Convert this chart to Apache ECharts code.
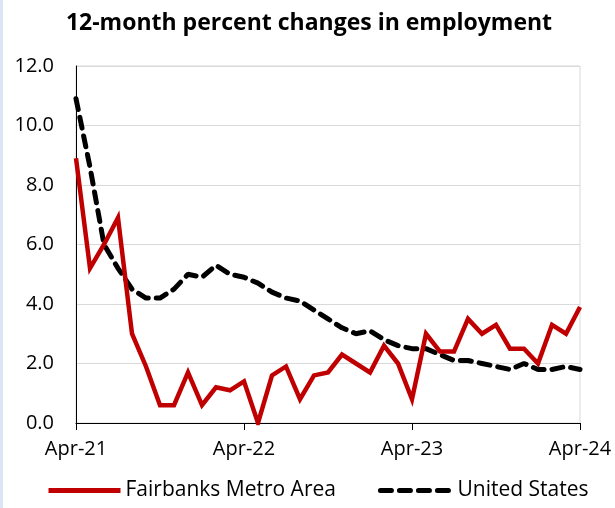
<!DOCTYPE html>
<html>
<head>
<meta charset="utf-8">
<script src="https://cdn.jsdelivr.net/npm/echarts@6/dist/echarts.min.js"></script>
<style>
  html, body { margin: 0; padding: 0; background: #fff; }
  #main { width: 615px; height: 508px; border-left: 3px solid #dce6f2; box-sizing: border-box; }
</style>
</head>
<body>
<div id="main"></div>
<script>
// monthly categories, Apr-21 .. Apr-24
const months = [
  'Apr-21', 'May-21', 'Jun-21', 'Jul-21', 'Aug-21', 'Sep-21', 'Oct-21', 'Nov-21', 'Dec-21', 'Jan-22', 'Feb-22', 'Mar-22',
  'Apr-22', 'May-22', 'Jun-22', 'Jul-22', 'Aug-22', 'Sep-22', 'Oct-22', 'Nov-22', 'Dec-22', 'Jan-23', 'Feb-23', 'Mar-23',
  'Apr-23', 'May-23', 'Jun-23', 'Jul-23', 'Aug-23', 'Sep-23', 'Oct-23', 'Nov-23', 'Dec-23', 'Jan-24', 'Feb-24', 'Mar-24',
  'Apr-24'
]
const fairbanks = [
  8.9, 5.2, 6.0, 6.9, 3.0, 1.9, 0.6, 0.6, 1.7, 0.6, 1.2, 1.1,
  1.4, 0.0, 1.6, 1.9, 0.8, 1.6, 1.7, 2.3, 2.0, 1.7, 2.6, 2.0,
  0.8, 3.0, 2.4, 2.4, 3.5, 3.0, 3.3, 2.5, 2.5, 2.0, 3.3, 3.0,
  3.9
]
const unitedStates = [
  10.9, 8.6, 6.0, 5.2, 4.5, 4.2, 4.2, 4.5, 5.0, 4.9, 5.3, 5.0,
  4.9, 4.7, 4.4, 4.2, 4.1, 3.8, 3.5, 3.2, 3.0, 3.1, 2.8, 2.6,
  2.5, 2.5, 2.3, 2.1, 2.1, 2.0, 1.9, 1.8, 2.0, 1.8, 1.8, 1.9,
  1.8
]
const yTicks = [0, 2, 4, 6, 8, 10, 12]

const font = 'Open Sans'
const myChart = echarts.init(document.getElementById('main'))
const option = {
  animation: false,
  title: {
    text: '12-month percent changes in employment',
    left: 'center',
    top: 7,
    textStyle: { fontFamily: font, fontWeight: 'bold', fontSize: 23, color: '#000' }
  },
  legend: {
    bottom: 2,
    left: 38,
    itemWidth: 72,
    itemHeight: 14,
    itemGap: 42,
    textStyle: { fontFamily: font, fontSize: 21, color: '#000' },
    itemStyle: { opacity: 0 },
    lineStyle: { width: 5 },
    data: ['Fairbanks Metro Area', 'United States']
  },
  grid: {
    left: 73,
    right: 35,
    top: 66,
    bottom: 85,
    show: true,
    borderColor: '#d9d9d9',
    borderWidth: 1
  },
  xAxis: {
    type: 'category',
    data: months,
    boundaryGap: false,
    axisLine: { lineStyle: { color: '#000', width: 1 } },
    axisTick: { interval: 11, length: 7, lineStyle: { color: '#000' } },
    axisLabel: { interval: 11, margin: 16, fontFamily: font, fontSize: 20, color: '#000' },
    splitLine: { show: false }
  },
  yAxis: {
    type: 'value',
    min: yTicks[0],
    max: yTicks[yTicks.length - 1],
    interval: 2,
    axisLine: { show: true, lineStyle: { color: '#000', width: 1 } },
    axisTick: { show: false },
    axisLabel: { margin: 22, fontFamily: font, fontSize: 20, color: '#000',
      formatter: v => v.toFixed(1) },
    splitLine: { lineStyle: { color: '#d9d9d9' } }
  },
  series: [
    {
      name: 'Fairbanks Metro Area',
      type: 'line',
      data: fairbanks,
      symbol: 'none',
      z: 3,
      lineStyle: { color: '#c00000', width: 4.5, join: 'miter' },
      itemStyle: { color: '#c00000' }
    },
    {
      name: 'United States',
      type: 'line',
      data: unitedStates,
      symbol: 'none',
      z: 2,
      lineStyle: { color: '#000', width: 5, type: [11, 8], cap: 'round' },
      itemStyle: { color: '#000' }
    }
  ]
}
myChart.setOption(option)
</script>
</body>
</html>
